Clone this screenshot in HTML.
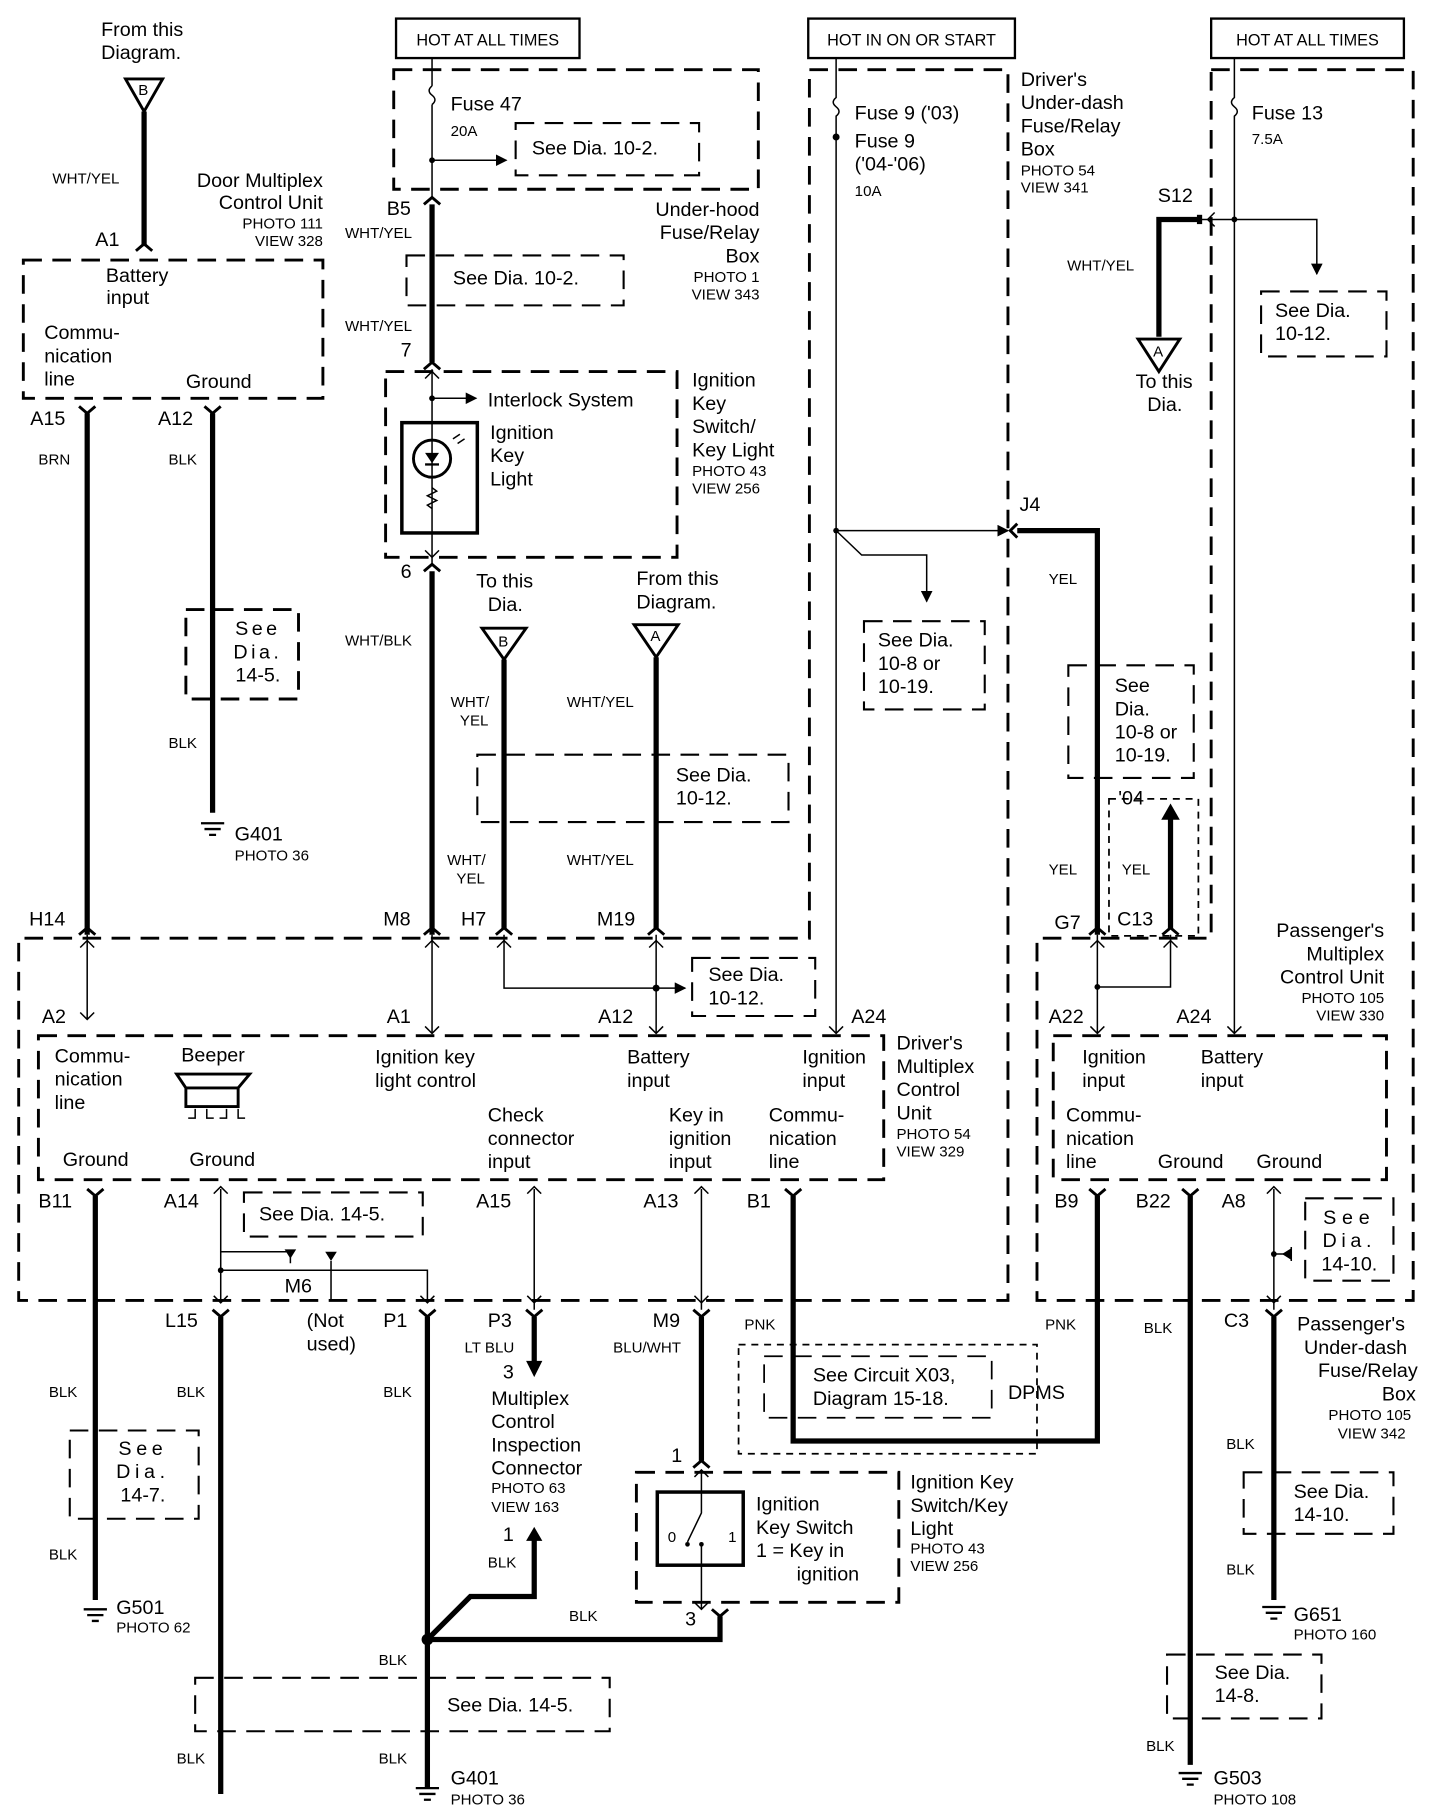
<!DOCTYPE html>
<html><head><meta charset="utf-8"><style>
html,body{margin:0;padding:0;background:#fff}
svg{display:block}
text{font-family:"Liberation Sans",sans-serif;fill:#000}
.l{font-size:17px}.s{font-size:13px}
.w{stroke:#000;stroke-width:4.5;fill:none}
.t{stroke:#000;stroke-width:1.3;fill:none}
.d{stroke:#000;stroke-width:2.5;fill:none;stroke-dasharray:16,9}
.b{stroke:#000;stroke-width:2;fill:none}
.c{stroke:#000;stroke-width:2.5;fill:none}
</style></head><body>
<svg width="1440" height="1816" viewBox="0 0 1240 1564" xmlns="http://www.w3.org/2000/svg">
<defs>
<marker id="ar" markerWidth="10" markerHeight="10" refX="9" refY="5" orient="auto" markerUnits="userSpaceOnUse"><path d="M0,0 L10,5 L0,10 z" fill="#000"/></marker>
</defs>

<rect x="341" y="16" width="158" height="34" class="b"/><text x="420" y="39" class="s" text-anchor="middle" style="font-size:14px">HOT AT ALL TIMES</text>
<rect x="696" y="16" width="178" height="34" class="b"/><text x="785" y="39" class="s" text-anchor="middle" style="font-size:14px">HOT IN ON OR START</text>
<rect x="1043" y="16" width="166" height="34" class="b"/><text x="1126" y="39" class="s" text-anchor="middle" style="font-size:14px">HOT AT ALL TIMES</text>

<text x="87" y="31" class="l">From this</text><text x="87" y="51" class="l">Diagram.</text>
<path d="M108,68 L140,68 L124,96 z" class="c"/><text x="119" y="82" class="s">B</text>
<path d="M124,96 L124,212" class="w"/>
<text x="45" y="158" class="s">WHT/YEL</text>
<text x="278" y="161" class="l" text-anchor="end">Door Multiplex</text>
<text x="278" y="180" class="l" text-anchor="end">Control Unit</text>
<text x="278" y="197" class="s" text-anchor="end">PHOTO 111</text>
<text x="278" y="212" class="s" text-anchor="end">VIEW 328</text>
<text x="82" y="212" class="l">A1</text>
<path d="M117,216 L124,210 L131,216" class="c"/>
<rect x="20" y="224" width="258" height="119" class="d"/>
<text x="118" y="243" class="l" text-anchor="middle">Battery</text><text x="110" y="262" class="l" text-anchor="middle">input</text>
<text x="38" y="292" class="l">Commu-</text><text x="38" y="312" class="l">nication</text><text x="38" y="332" class="l">line</text>
<text x="160" y="334" class="l">Ground</text>
<text x="26" y="366" class="l">A15</text><text x="136" y="366" class="l">A12</text>
<path d="M68,350 L75,356 L82,350 M176,350 L183,356 L190,350" class="c"/>
<path d="M75,356 L75,805" class="w"/><path d="M183,356 L183,700" class="w"/>
<text x="33" y="400" class="s">BRN</text><text x="145" y="400" class="s">BLK</text>
<rect x="160" y="525" width="97" height="77" class="d"/>
<text x="222" y="547" class="l" text-anchor="middle" style="letter-spacing:3px">See</text>
<text x="222" y="567" class="l" text-anchor="middle" style="letter-spacing:3px">Dia.</text>
<text x="222" y="587" class="l" text-anchor="middle">14-5.</text>
<text x="145" y="644" class="s">BLK</text>
<path d="M173,709 L193,709 M176,714 L190,714 M180,719 L186,719" class="b"/>
<text x="202" y="724" class="l">G401</text><text x="202" y="741" class="s">PHOTO 36</text>

<rect x="339" y="60" width="314" height="103" class="d"/>
<path d="M372,50 L372,74" class="t"/>
<path d="M372,74 q-5,4 0,8 q5,4 0,8" class="t"/>
<path d="M372,90 L372,170" class="t"/>
<text x="388" y="95" class="l">Fuse 47</text><text x="388" y="117" class="s">20A</text>
<path d="M372,138 L436,138" class="t" marker-end="url(#ar)"/><circle cx="372" cy="138" r="2.5"/>
<rect x="444" y="106" width="158" height="45" class="d" style="stroke-width:1.8"/>
<text x="458" y="133" class="l">See Dia. 10-2.</text>
<text x="333" y="185" class="l">B5</text>
<path d="M365,176 L372,170 L379,176" class="c"/>
<path d="M372,176 L372,312" class="w"/>
<text x="297" y="205" class="s">WHT/YEL</text>
<text x="654" y="186" class="l" text-anchor="end">Under-hood</text>
<text x="654" y="206" class="l" text-anchor="end">Fuse/Relay</text>
<text x="654" y="226" class="l" text-anchor="end">Box</text>
<text x="654" y="243" class="s" text-anchor="end">PHOTO 1</text>
<text x="654" y="258" class="s" text-anchor="end">VIEW 343</text>
<rect x="350" y="220" width="187" height="43" class="d" style="stroke-width:1.8"/>
<text x="390" y="245" class="l">See Dia. 10-2.</text>
<text x="297" y="285" class="s">WHT/YEL</text>
<text x="345" y="307" class="l">7</text>
<path d="M365,318 L372,312 L379,318" class="c"/>

<rect x="332" y="320" width="251" height="160" class="d"/>
<path d="M372,318 L372,486" class="t"/>
<path d="M366,326 L372,320 L378,326" class="t"/>
<circle cx="372" cy="343" r="2.5"/><path d="M372,343 L410,343" class="t" marker-end="url(#ar)"/>
<text x="420" y="350" class="l">Interlock System</text>
<rect x="346" y="364" width="65" height="95" class="b" style="stroke-width:3"/>
<circle cx="372" cy="395" r="16" class="b" style="stroke-width:2.5"/>
<path d="M366,390 L378,390 L372,399 z" fill="#000"/><path d="M366,400 L378,400" class="b"/>
<path d="M390,378 l6,-4 M394,382 l6,-4" class="t"/>
<path d="M372,420 l4,3 l-8,4 l8,4 l-8,4 l4,3" class="t"/>
<text x="422" y="378" class="l">Ignition</text><text x="422" y="398" class="l">Key</text><text x="422" y="418" class="l">Light</text>
<text x="596" y="333" class="l">Ignition</text><text x="596" y="353" class="l">Key</text>
<text x="596" y="373" class="l">Switch/</text><text x="596" y="393" class="l">Key Light</text>
<text x="596" y="410" class="s">PHOTO 43</text><text x="596" y="425" class="s">VIEW 256</text>
<path d="M366,474 L372,480 L378,474" class="t"/>
<text x="345" y="498" class="l">6</text>
<path d="M365,492 L372,486 L379,492" class="c"/>
<path d="M372,492 L372,805" class="w"/>
<text x="297" y="556" class="s">WHT/BLK</text>

<text x="410" y="506" class="l">To this</text><text x="420" y="526" class="l">Dia.</text>
<path d="M415,541 L453,541 L434,568 z" class="c" fill="#fff" style="fill:#fff"/><text x="429" y="557" class="s">B</text>
<path d="M434,568 L434,800" class="w"/>
<text x="548" y="504" class="l">From this</text><text x="548" y="524" class="l">Diagram.</text>
<path d="M546,538 L584,538 L565,566 z" class="c"/><text x="560" y="552" class="s">A</text>
<path d="M565,566 L565,800" class="w"/>
<text x="388" y="609" class="s">WHT/</text><text x="396" y="625" class="s">YEL</text>
<text x="488" y="609" class="s">WHT/YEL</text>
<rect x="411" y="650" width="268" height="58" class="d" style="stroke-width:1.8"/>
<text x="582" y="673" class="l">See Dia.</text><text x="582" y="693" class="l">10-12.</text>
<text x="385" y="745" class="s">WHT/</text><text x="393" y="761" class="s">YEL</text>
<text x="488" y="745" class="s">WHT/YEL</text>

<path d="M720,50 L720,84 q-5,4 0,8 q5,4 0,8 L720,118" class="t"/>
<circle cx="720" cy="118" r="3"/>
<path d="M720,118 L720,890" class="t"/>
<text x="736" y="103" class="l">Fuse 9 ('03)</text><text x="736" y="127" class="l">Fuse 9</text>
<text x="736" y="147" class="l">('04-'06)</text><text x="736" y="169" class="s">10A</text>
<text x="879" y="74" class="l">Driver's</text><text x="879" y="94" class="l">Under-dash</text>
<text x="879" y="114" class="l">Fuse/Relay</text><text x="879" y="134" class="l">Box</text>
<text x="879" y="151" class="s">PHOTO 54</text><text x="879" y="166" class="s">VIEW 341</text>
<circle cx="720" cy="457" r="2.5"/>
<path d="M720,457 L868,457" class="t" marker-end="url(#ar)"/>
<path d="M720,457 L742,478 L798,478 L798,518" class="t" marker-end="url(#ar)"/>
<rect x="744" y="535" width="104" height="76" class="d" style="stroke-width:1.8"/>
<text x="756" y="557" class="l">See Dia.</text><text x="756" y="577" class="l">10-8 or</text><text x="756" y="597" class="l">10-19.</text>
<text x="878" y="440" class="l">J4</text>
<path d="M876,451 L870,457 L876,463" class="c"/>
<path d="M876,457 L945,457 L945,805" class="w"/>
<text x="903" y="503" class="s">YEL</text>
<rect x="920" y="573" width="108" height="97" class="d" style="stroke-width:1.8"/>
<text x="960" y="596" class="l">See</text><text x="960" y="616" class="l">Dia.</text><text x="960" y="636" class="l">10-8 or</text><text x="960" y="656" class="l">10-19.</text>
<text x="963" y="693" class="l">'04</text>
<rect x="955" y="688" width="77" height="118" class="d" style="stroke-width:1.5;stroke-dasharray:6,5"/>
<path d="M1008,800 L1008,700" class="w"/><path d="M1000,706 L1008,692 L1016,706 z" fill="#000"/>
<text x="903" y="753" class="s">YEL</text><text x="966" y="753" class="s">YEL</text>

<path d="M1063,50 L1063,84 q-5,4 0,8 q5,4 0,8 L1063,890" class="t"/>
<text x="1078" y="103" class="l">Fuse 13</text><text x="1078" y="124" class="s">7.5A</text>
<text x="997" y="174" class="l">S12</text>
<path d="M1033,185 L1033,193" class="w"/>
<path d="M1033,189 L1063,189" class="t"/><path d="M1046,183 L1040,189 L1046,195" class="t"/>
<circle cx="1063" cy="189" r="2.5"/>
<path d="M1063,189 L1134,189 L1134,236" class="t" marker-end="url(#ar)"/>
<path d="M1033,189 L998,189 L998,290" class="w"/>
<text x="919" y="233" class="s">WHT/YEL</text>
<path d="M980,292 L1016,292 L998,320 z" class="c"/><text x="993" y="307" class="s">A</text>
<text x="978" y="334" class="l">To this</text><text x="988" y="354" class="l">Dia.</text>
<rect x="1086" y="251" width="108" height="56" class="d" style="stroke-width:1.8"/>
<text x="1098" y="273" class="l">See Dia.</text><text x="1098" y="293" class="l">10-12.</text>

<path d="M697,60 L868,60 L868,1120 L16,1120 L16,808 L697,808 Z" class="d"/>
<path d="M1043,60 L1217,60 L1217,1120 L893,1120 L893,808 L1043,808 Z" class="d"/>

<text x="25" y="797" class="l">H14</text><text x="330" y="797" class="l">M8</text>
<text x="397" y="797" class="l">H7</text><text x="514" y="797" class="l">M19</text>
<text x="908" y="800" class="l">G7</text><text x="962" y="797" class="l">C13</text>
<g class="c">
<path d="M68,805 L75,799 L82,805"/><path d="M365,805 L372,799 L379,805"/>
<path d="M427,805 L434,799 L441,805"/><path d="M558,805 L565,799 L572,805"/>
<path d="M938,805 L945,799 L952,805"/><path d="M1001,805 L1008,799 L1015,805"/>
</g>
<path d="M75,805 L75,878 M372,805 L372,890 M565,805 L565,890 M945,805 L945,890" class="t"/>
<path d="M69,816 L75,810 L81,816 M69,872 L75,878 L81,872 M366,816 L372,810 L378,816 M366,884 L372,890 L378,884 M559,816 L565,810 L571,816 M559,884 L565,890 L571,884 M939,816 L945,810 L951,816 M939,884 L945,890 L951,884 M428,816 L434,810 L440,816 M1057,884 L1063,890 L1069,884 M714,884 L720,890 L726,884" class="t"/>
<path d="M434,805 L434,851 L590,851" class="t" marker-end="url(#ar)"/><circle cx="565" cy="851" r="3"/>
<rect x="596" y="825" width="106" height="50" class="d" style="stroke-width:1.8"/>
<text x="610" y="845" class="l">See Dia.</text><text x="610" y="865" class="l">10-12.</text>
<path d="M945,850 L1008,850 L1008,805" class="t"/><circle cx="945" cy="850" r="2.5"/>
<path d="M1002,816 L1008,810 L1014,816" class="t"/>
<text x="1192" y="807" class="l" text-anchor="end">Passenger's</text>
<text x="1192" y="827" class="l" text-anchor="end">Multiplex</text>
<text x="1192" y="847" class="l" text-anchor="end">Control Unit</text>
<text x="1192" y="864" class="s" text-anchor="end">PHOTO 105</text>
<text x="1192" y="879" class="s" text-anchor="end">VIEW 330</text>

<text x="36" y="881" class="l">A2</text><text x="333" y="881" class="l">A1</text>
<text x="515" y="881" class="l">A12</text><text x="733" y="881" class="l">A24</text>
<text x="903" y="881" class="l">A22</text><text x="1013" y="881" class="l">A24</text>
<rect x="33" y="892" width="728" height="124" class="d"/>
<text x="47" y="915" class="l">Commu-</text><text x="47" y="935" class="l">nication</text><text x="47" y="955" class="l">line</text>
<text x="156" y="914" class="l">Beeper</text>
<path d="M152,925 L215,925 L205,937 L160,937 Z M160,937 L160,953 L205,953 L205,937" class="b" style="stroke-width:2.5"/>
<path d="M168,955 l0,8 l-6,0 M178,955 l0,8 l6,0 M195,955 l0,8 l-6,0 M205,955 l0,8 l6,0" class="t"/>
<text x="54" y="1004" class="l">Ground</text><text x="163" y="1004" class="l">Ground</text>
<text x="323" y="916" class="l">Ignition key</text><text x="323" y="936" class="l">light control</text>
<text x="540" y="916" class="l">Battery</text><text x="540" y="936" class="l">input</text>
<text x="691" y="916" class="l">Ignition</text><text x="691" y="936" class="l">input</text>
<text x="420" y="966" class="l">Check</text><text x="420" y="986" class="l">connector</text><text x="420" y="1006" class="l">input</text>
<text x="576" y="966" class="l">Key in</text><text x="576" y="986" class="l">ignition</text><text x="576" y="1006" class="l">input</text>
<text x="662" y="966" class="l">Commu-</text><text x="662" y="986" class="l">nication</text><text x="662" y="1006" class="l">line</text>
<text x="772" y="904" class="l">Driver's</text><text x="772" y="924" class="l">Multiplex</text>
<text x="772" y="944" class="l">Control</text><text x="772" y="964" class="l">Unit</text>
<text x="772" y="981" class="s">PHOTO 54</text><text x="772" y="996" class="s">VIEW 329</text>

<rect x="907" y="892" width="287" height="124" class="d"/>
<text x="932" y="916" class="l">Ignition</text><text x="932" y="936" class="l">input</text>
<text x="1034" y="916" class="l">Battery</text><text x="1034" y="936" class="l">input</text>
<text x="918" y="966" class="l">Commu-</text><text x="918" y="986" class="l">nication</text><text x="918" y="1006" class="l">line</text>
<text x="997" y="1006" class="l">Ground</text><text x="1082" y="1006" class="l">Ground</text>

<text x="33" y="1040" class="l">B11</text><text x="141" y="1040" class="l">A14</text>
<text x="410" y="1040" class="l">A15</text><text x="554" y="1040" class="l">A13</text>
<text x="643" y="1040" class="l">B1</text><text x="908" y="1040" class="l">B9</text>
<text x="978" y="1040" class="l">B22</text><text x="1052" y="1040" class="l">A8</text>
<g class="c">
<path d="M75,1024 L82,1030 L89,1024"/><path d="M676,1024 L683,1030 L690,1024"/>
<path d="M938,1024 L945,1030 L952,1024"/><path d="M1018,1024 L1025,1030 L1032,1024"/>
<path d="M183,1128 L190,1134 L197,1128"/><path d="M361,1128 L368,1134 L375,1128"/>
<path d="M453,1128 L460,1134 L467,1128"/><path d="M597,1128 L604,1134 L611,1128"/>
<path d="M1090,1128 L1097,1134 L1104,1128"/>
</g>
<path d="M82,1030 L82,1378" class="w"/>
<path d="M683,1030 L683,1241 L945,1241 L945,1030" class="w"/>
<path d="M1025,1030 L1025,1520" class="w"/>
<path d="M190,1024 L190,1120 M460,1024 L460,1128 M604,1024 L604,1128 M1097,1024 L1097,1128" class="t"/>
<path d="M184,1028 L190,1022 L196,1028 M454,1028 L460,1022 L466,1028 M598,1028 L604,1022 L610,1028 M1091,1028 L1097,1022 L1103,1028 M454,1116 L460,1122 L466,1116 M598,1116 L604,1122 L610,1116 M1091,1116 L1097,1122 L1103,1116 M184,1116 L190,1122 L196,1116" class="t"/>
<circle cx="190" cy="1094" r="2.5"/><circle cx="1097" cy="1080" r="2.5"/>
<path d="M190,1078 L250,1078 L250,1088 M190,1094 L368,1094 L368,1120 M285,1086 L285,1120" class="t"/>
<path d="M245,1076 L255,1076 L250,1084 z M280,1078 L290,1078 L285,1086 z" fill="#000"/>
<path d="M362,1116 L368,1122 L374,1116" class="t"/>
<text x="245" y="1113" class="l">M6</text>
<rect x="210" y="1027" width="154" height="38" class="d" style="stroke-width:1.8"/>
<text x="223" y="1051" class="l">See Dia. 14-5.</text>
<rect x="1124" y="1032" width="76" height="71" class="d" style="stroke-width:1.8"/>
<text x="1162" y="1054" class="l" text-anchor="middle" style="letter-spacing:5px">See</text>
<text x="1162" y="1074" class="l" text-anchor="middle" style="letter-spacing:4px">Dia.</text>
<text x="1162" y="1094" class="l" text-anchor="middle">14-10.</text>
<path d="M1097,1080 L1112,1080 L1112,1074 L1112,1086" class="t"/><path d="M1112,1075 L1112,1085 L1104,1080 z" fill="#000"/>

<text x="142" y="1143" class="l">L15</text><text x="264" y="1143" class="l">(Not</text><text x="264" y="1163" class="l">used)</text>
<text x="330" y="1143" class="l">P1</text><text x="420" y="1143" class="l">P3</text>
<text x="562" y="1143" class="l">M9</text><text x="641" y="1145" class="s">PNK</text>
<text x="900" y="1145" class="s">PNK</text><text x="985" y="1148" class="s">BLK</text>
<text x="1054" y="1143" class="l">C3</text>
<path d="M190,1134 L190,1545 M368,1134 L368,1540 M604,1134 L604,1258 M1097,1134 L1097,1378" class="w"/>
<path d="M460,1134 L460,1175" class="w"/><path d="M453,1172 L460,1186 L467,1172 z" fill="#000"/>
<text x="400" y="1165" class="s">LT BLU</text><text x="528" y="1165" class="s">BLU/WHT</text>
<text x="433" y="1187" class="l">3</text>
<text x="423" y="1210" class="l">Multiplex</text><text x="423" y="1230" class="l">Control</text>
<text x="423" y="1250" class="l">Inspection</text><text x="423" y="1270" class="l">Connector</text>
<text x="423" y="1286" class="s">PHOTO 63</text><text x="423" y="1302" class="s">VIEW 163</text>
<text x="1117" y="1146" class="l">Passenger's</text><text x="1123" y="1166" class="l">Under-dash</text>
<text x="1135" y="1186" class="l">Fuse/Relay</text><text x="1190" y="1206" class="l">Box</text>
<text x="1144" y="1223" class="s">PHOTO 105</text><text x="1152" y="1239" class="s">VIEW 342</text>
<text x="42" y="1203" class="s">BLK</text><text x="152" y="1203" class="s">BLK</text><text x="330" y="1203" class="s">BLK</text>
<rect x="60" y="1232" width="111" height="76" class="d" style="stroke-width:1.8"/>
<text x="123" y="1253" class="l" text-anchor="middle" style="letter-spacing:4px">See</text>
<text x="123" y="1273" class="l" text-anchor="middle" style="letter-spacing:4px">Dia.</text>
<text x="123" y="1293" class="l" text-anchor="middle">14-7.</text>
<text x="42" y="1343" class="s">BLK</text>
<path d="M72,1386 L92,1386 M75,1391 L89,1391 M79,1396 L85,1396" class="b"/>
<text x="100" y="1390" class="l">G501</text><text x="100" y="1406" class="s">PHOTO 62</text>
<rect x="636" y="1158" width="257" height="94" class="d" style="stroke-width:1.5;stroke-dasharray:6,5"/>
<rect x="658" y="1168" width="196" height="53" class="d" style="stroke-width:1.5"/>
<text x="700" y="1190" class="l">See Circuit X03,</text><text x="700" y="1210" class="l">Diagram 15-18.</text>
<text x="868" y="1205" class="l">DPMS</text>
<text x="1056" y="1248" class="s">BLK</text>
<rect x="1071" y="1268" width="129" height="53" class="d" style="stroke-width:1.8"/>
<text x="1114" y="1290" class="l">See Dia.</text><text x="1114" y="1310" class="l">14-10.</text>
<text x="1056" y="1356" class="s">BLK</text>
<path d="M1087,1384 L1107,1384 M1090,1389 L1104,1389 M1094,1394 L1100,1394" class="b"/>
<text x="1114" y="1396" class="l">G651</text><text x="1114" y="1412" class="s">PHOTO 160</text>
<rect x="1005" y="1425" width="133" height="55" class="d" style="stroke-width:1.8"/>
<text x="1046" y="1446" class="l">See Dia.</text><text x="1046" y="1466" class="l">14-8.</text>
<text x="987" y="1508" class="s">BLK</text>
<path d="M1015,1527 L1035,1527 M1018,1532 L1032,1532 M1022,1537 L1028,1537" class="b"/>
<text x="1045" y="1537" class="l">G503</text><text x="1045" y="1554" class="s">PHOTO 108</text>

<text x="578" y="1259" class="l">1</text>
<path d="M597,1264 L604,1258 L611,1264" class="c"/>
<path d="M598,1272 L604,1266 L610,1272" class="t"/>
<rect x="548" y="1268" width="226" height="112" class="d"/>
<rect x="566" y="1285" width="74" height="63" class="b" style="stroke-width:3"/>
<path d="M604,1266 L604,1303 L592,1328 M604,1330 L604,1386" class="t"/>
<circle cx="592" cy="1330" r="2"/><circle cx="604" cy="1330" r="2"/>
<text x="575" y="1328" class="s">0</text><text x="627" y="1328" class="s">1</text>
<path d="M598,1380 L604,1386 L610,1380" class="t"/>
<text x="651" y="1301" class="l">Ignition</text><text x="651" y="1321" class="l">Key Switch</text>
<text x="651" y="1341" class="l">1 =  Key in</text><text x="686" y="1361" class="l">ignition</text>
<text x="784" y="1282" class="l">Ignition Key</text><text x="784" y="1302" class="l">Switch/Key</text>
<text x="784" y="1322" class="l">Light</text>
<text x="784" y="1338" class="s">PHOTO 43</text><text x="784" y="1353" class="s">VIEW 256</text>
<text x="590" y="1400" class="l">3</text>
<path d="M613,1386 L620,1392 L627,1386" class="c"/>
<path d="M620,1392 L620,1412 L368,1412" class="w"/>
<path d="M368,1412 L405,1375 L460,1375 L460,1325" class="w"/>
<path d="M453,1327 L460,1315 L467,1327 z" fill="#000"/>
<text x="433" y="1327" class="l">1</text>
<text x="420" y="1350" class="s">BLK</text><text x="490" y="1396" class="s">BLK</text>
<circle cx="368" cy="1412" r="5"/>
<text x="326" y="1434" class="s">BLK</text>
<rect x="168" y="1445" width="357" height="46" class="d" style="stroke-width:1.8"/>
<text x="385" y="1474" class="l">See Dia. 14-5.</text>
<text x="152" y="1519" class="s">BLK</text><text x="326" y="1519" class="s">BLK</text>
<path d="M358,1540 L378,1540 M361,1545 L375,1545 M365,1550 L371,1550" class="b"/>
<text x="388" y="1537" class="l">G401</text><text x="388" y="1554" class="s">PHOTO 36</text>
</svg>
</body></html>
